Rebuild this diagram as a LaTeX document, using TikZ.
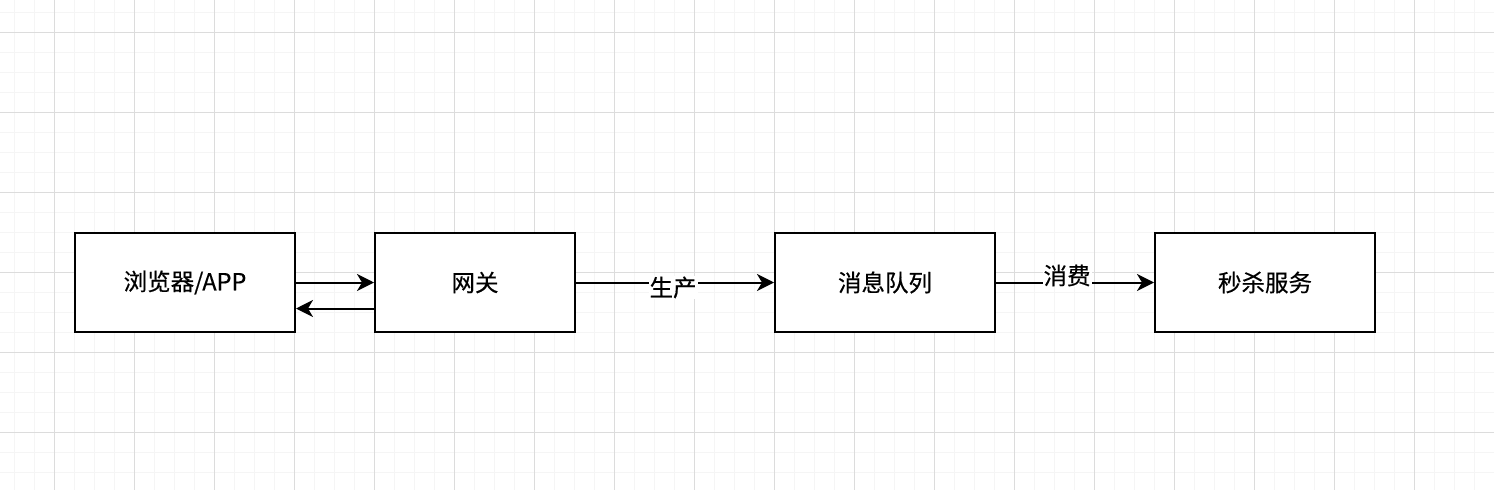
\documentclass[tikz,border=0pt]{standalone}
\usepackage{fontspec}
\setmainfont{Liberation Sans}
\newfontfamily\cjk[FakeBold=0.4]{Noto Sans CJK SC}
\usetikzlibrary{arrows.meta}
\definecolor{gminor}{HTML}{F5F5F5}
\definecolor{gmajor}{HTML}{DCDCDC}
\tikzset{
  box/.style={draw=black, line width=2pt, fill=white, minimum width=220pt, minimum height=99pt, inner sep=0pt, font=\cjk\fontsize{23.5}{28}\selectfont},
  conn/.style={line width=2pt, -{Stealth[length=17pt,width=17pt,inset=5pt]}},
  lbl/.style={fill=white, inner sep=1pt, font=\cjk\fontsize{23.5}{28}\selectfont}
}
\begin{document}
\begin{tikzpicture}[x=1pt,y=-1pt]
\useasboundingbox (0,0) rectangle (1494,490);
\fill[white] (0,0) rectangle (1494,490);
\foreach \i in {0,...,74} { \draw[gminor, line width=1pt] (14+20*\i,0) -- (14+20*\i,490); }
\foreach \j in {0,...,24} { \draw[gminor, line width=1pt] (0,12+20*\j) -- (1494,12+20*\j); }
\foreach \i in {0,...,18} { \draw[gmajor, line width=1pt] (54+80*\i,0) -- (54+80*\i,490); }
\foreach \j in {0,...,5} { \draw[gmajor, line width=1pt] (0,32+80*\j) -- (1494,32+80*\j); }
\node[box] (browser) at (185,282.5) {浏览器/APP};
\node[box, minimum width=200pt] (gw) at (475,282.5) {网关};
\node[box] (mq) at (885,282.5) {消息队列};
\node[box] (kill) at (1265,282.5) {秒杀服务};
\draw[conn] (browser.east) -- (gw.west);
\draw[conn] ([yshift=-26pt]gw.west) -- ([yshift=-26pt]browser.east);
\draw[conn] (gw.east) -- node[lbl, pos=0.49, yshift=-5pt] {生产} (mq.west);
\draw[conn] (mq.east) -- node[lbl, pos=0.45, yshift=7pt] {消费} (kill.west);
\end{tikzpicture}
\end{document}
